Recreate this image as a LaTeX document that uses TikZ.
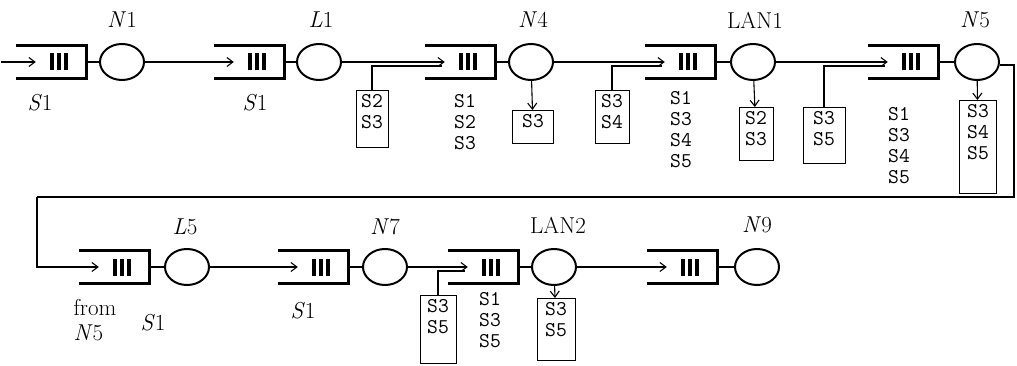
\documentclass[tikz,border=0pt]{standalone}
\usepackage{fontspec}
\usepackage{tikz}
\usetikzlibrary{shapes.geometric, arrows.meta, positioning, calc}

\newcommand{\qbars}{\hspace{16pt}\rule{3.5pt}{17pt}\hspace{3.5pt}\rule{3.5pt}{17pt}\hspace{3.5pt}\rule{3.5pt}{17pt}}
\newcommand{\stk}[1]{\begin{tabular}[t]{@{}c@{}}#1\end{tabular}}

\begin{document}
\begin{tikzpicture}[
        x=1pt, y=-1pt,
        queue/.style={rectangle, minimum width=70pt, minimum height=33pt, inner sep=0pt},
        qwall/.style={line width=3pt},
        server/.style={ellipse, draw, line width=2pt, minimum width=44pt, minimum height=36pt, inner sep=0pt},
        arrow/.style={-{Straight Barb[length=6pt,width=9pt]}, line width=1.1pt},
        link/.style={line width=1.1pt},
        flowbox/.style={draw, line width=0.8pt, anchor=north, inner xsep=2pt, inner ysep=2pt, text height=15pt, font=\fontsize{21}{21}\selectfont\ttfamily},
        stack/.style={anchor=north, inner sep=0pt, font=\fontsize{21}{21}\selectfont\ttfamily},
        tag/.style={inner sep=0pt, font=\fontsize{23}{25}\selectfont}
    ]
        \useasboundingbox (0,0) rectangle (1017,366);

        % first row
        \node[queue] (q1) at (51,62) {\qbars};
        \node[server] (s1) at (122,62) {};
        \node[queue] (q2) at (249,62) {\qbars};
        \node[server] (s2) at (319,62) {};
        \node[queue] (q3) at (460,62) {\qbars};
        \node[server] (s3) at (531,62) {};
        \node[queue] (q4) at (680,62) {\qbars};
        \node[server] (s4) at (753,62) {};
        \node[queue] (q5) at (903,62) {\qbars};
        \node[server] (s5) at (977,62) {};

        % second row
        \node[queue] (q6) at (114,267) {\qbars};
        \node[server] (s6) at (187,267) {};
        \node[queue] (q7) at (313,267) {\qbars};
        \node[server] (s7) at (385,267) {};
        \node[queue] (q8) at (483,267) {\qbars};
        \node[server] (s8) at (554,267) {};
        \node[queue] (q9) at (682,267) {\qbars};
        \node[server] (s9) at (757,267) {};

        \foreach \q in {q1,q2,q3,q4,q5,q6,q7,q8,q9}
            \draw[qwall] (\q.north west) -- (\q.north east) -- (\q.south east) -- (\q.south west);
        \foreach \q/\s in {q1/s1,q2/s2,q3/s3,q4/s4,q5/s5,q6/s6,q7/s7,q8/s8,q9/s9}
            \draw[link] (\q.east) -- (\s);

        % node names
        \node[tag] (t1) at (122,20) {\textit{N}1};
        \node[tag] (t2) at (321,20) {\textit{L}1};
        \node[tag] (t3) at (533,20) {\textit{N}4};
        \node[tag] (t4) at (755,20) {LAN1};
        \node[tag] (t5) at (975,20) {\textit{N}5};
        \node[tag] (t6) at (185,227) {\textit{L}5};
        \node[tag] (t7) at (385,227) {\textit{N}7};
        \node[tag] (t8) at (558,225) {LAN2};
        \node[tag] (t9) at (757,225) {\textit{N}9};

        % session labels
        \node[tag] (u1) at (40,103) {\textit{S}1};
        \node[tag] (u2) at (255,103) {\textit{S}1};
        \node[stack] (u3) at (465,93) {\stk{S1\\S2\\S3}};
        \node[stack] (u4) at (681,90) {\stk{S1\\S3\\S4\\S5}};
        \node[stack] (u5) at (899,106) {\stk{S1\\S3\\S4\\S5}};
        \node[tag, align=left] (from) at (95,320) {from\\\textit{N}5};
        \node[tag] (u6) at (153,323) {\textit{S}1};
        \node[tag] (u7) at (303,311) {\textit{S}1};
        \node[stack] (u8) at (490,291) {\stk{S1\\S3\\S5}};

        % boxes
        \node[flowbox, minimum width=32pt, text depth=38pt] (b1) at (372,90) {\stk{S2\\S3}};
        \node[flowbox, minimum width=41pt, text depth=14pt] (b2) at (533,110) {\stk{S3}};
        \node[flowbox, minimum width=34pt, text depth=34pt] (b3) at (612,90) {\stk{S3\\S4}};
        \node[flowbox, minimum width=34pt, text depth=34pt] (b4) at (756,107) {\stk{S2\\S3}};
        \node[flowbox, minimum width=42pt, text depth=37pt] (b5) at (824,107) {\stk{S3\\S5}};
        \node[flowbox, minimum width=37pt, text depth=74pt] (b6) at (978,100) {\stk{S3\\S4\\S5}};
        \node[flowbox, minimum width=36pt, text depth=49pt] (b7) at (438,295) {\stk{S3\\S5}};
        \node[flowbox, minimum width=38pt, text depth=43pt] (b8) at (556,298) {\stk{S3\\S5}};

        % connectors
        \coordinate (in) at (1,62);
        \coordinate (turn) at (1014,197);
        \coordinate (back) at (37,197);
        \draw[arrow] (in) -- ($(q1.west)+(20,0)$);
        \draw[arrow] (s1) -- ($(q2.west)+(20,0)$);
        \draw[arrow] (s2) -- ($(q3.west)+(20,0)$);
        \draw[link] (b1.north) |- ($(q3.west)+(17,4)$);
        \draw[arrow] (s3) -- ($(q4.west)+(20,0)$);
        \draw[link] (b3.north) |- ($(q4.west)+(17,4)$);
        \draw[arrow] (s3) -- (b2);
        \draw[arrow] (s4) -- ($(q5.west)+(20,0)$);
        \draw[link] (b5.north) |- ($(q5.west)+(17,4)$);
        \draw[arrow] (s4) -- (b4);
        \draw[arrow] (s5) -- (b6);
        \draw[link] ($(s5.east)+(0,3)$) -| (turn) -- (back);
        \draw[arrow] (back) |- ($(q6.west)+(20,0)$);
        \draw[arrow] (s6) -- ($(q7.west)+(20,0)$);
        \draw[arrow] (s7) -- ($(q8.west)+(20,0)$);
        \draw[link] (b7.north) |- ($(q8.west)+(17,4)$);
        \draw[arrow] (s8) -- (b8);
        \draw[arrow] (s8) -- ($(q9.west)+(20,0)$);

    \end{tikzpicture}
\end{document}
